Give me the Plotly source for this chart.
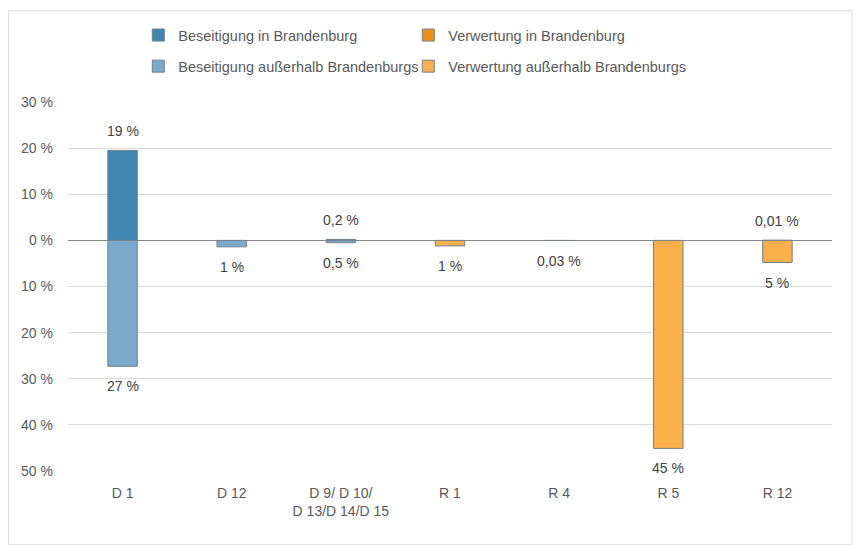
import plotly.graph_objects as go

categories = ["D 1", "D 12", "D 9/ D 10/<br>D 13/D 14/D 15", "R 1", "R 4", "R 5", "R 12"]

# shares in percent (in Brandenburg = positive, outside = shown downwards)
bes_in = [19.5, None, 0.2, None, None, None, None]
bes_out = [27.3, 1.4, 0.5, None, None, None, None]
ver_in = [None, None, None, None, None, None, 0.01]
ver_out = [None, None, None, 1.2, 0.03, 45.1, 4.8]

bes_in_lbl = ["19 %", None, "0,2 %", None, None, None, None]
bes_out_lbl = ["27 %", "1 %", "0,5 %", None, None, None, None]
ver_in_lbl = [None, None, None, None, None, None, "0,01 %"]
ver_out_lbl = [None, None, None, "1 %", "0,03 %", "45 %", "5 %"]

tick_vals = [30, 20, 10, 0, -10, -20, -30, -40, -50]
tick_text = ["30 %", "20 %", "10 %", "0 %", "10 %", "20 %", "30 %", "40 %", "50 %"]

FONT = "Liberation Sans"
C_BES_IN = "#3F86B3"
C_BES_OUT = "#7AAACC"
C_VER_IN = "#EE8E12"
C_VER_OUT = "#F9B04A"
OUTLINE = "#72808A"

def neg(vals):
    return [(-v if v is not None else None) for v in vals]

fig = go.Figure()
series = [
    ("Beseitigung in Brandenburg", bes_in, C_BES_IN, "legend"),
    ("Verwertung in Brandenburg", ver_in, C_VER_IN, "legend2"),
    ("Beseitigung außerhalb Brandenburgs", neg(bes_out), C_BES_OUT, "legend3"),
    ("Verwertung außerhalb Brandenburgs", neg(ver_out), C_VER_OUT, "legend4"),
]
for name, vals, col, lg in series:
    fig.add_trace(go.Bar(
        x=categories, y=vals, name=name, width=0.27,
        marker=dict(color=col, line=dict(color=OUTLINE, width=1)),
        legend=lg, showlegend=True, hoverinfo="skip",
    ))

annotations = []
for vals, lbls, up in [(bes_in, bes_in_lbl, True), (ver_in, ver_in_lbl, True),
                       (neg(bes_out), bes_out_lbl, False), (neg(ver_out), ver_out_lbl, False)]:
    for c, v, t in zip(categories, vals, lbls):
        if v is None or t is None:
            continue
        annotations.append(dict(
            x=c, y=v, text=t, showarrow=False,
            yanchor="bottom" if up else "top",
            yshift=9 if up else -10,
            font=dict(family=FONT, size=14, color="#404040"),
        ))

legend_common = dict(orientation="v", xanchor="left", yanchor="middle", itemwidth=30,
                     font=dict(family=FONT, size=14.5, color="#595959"),
                     bgcolor="rgba(0,0,0,0)", visible=True)

fig.update_layout(
    width=856, height=537,
    margin=dict(l=60, r=32, t=93, b=74),
    paper_bgcolor="white", plot_bgcolor="white",
    barmode="overlay",
    showlegend=True,
    font=dict(family=FONT, size=14, color="#595959"),
    annotations=annotations,
    legend=dict(x=0.092, y=1.178, **legend_common),
    legend2=dict(x=0.4454, y=1.178, **legend_common),
    legend3=dict(x=0.092, y=1.094, **legend_common),
    legend4=dict(x=0.4454, y=1.094, **legend_common),
    shapes=[dict(type="rect", xref="paper", yref="paper",
                 x0=-0.0778, x1=1.0262, y0=-0.2, y1=1.2473,
                 line=dict(color="#D9D9D9", width=1), fillcolor="rgba(0,0,0,0)",
                 layer="below")],
    xaxis=dict(showgrid=False, showline=False, ticks="", ticklabelstandoff=12,
               tickfont=dict(family=FONT, size=14, color="#595959")),
    yaxis=dict(range=[-50, 30], tickvals=tick_vals, ticktext=tick_text,
               showgrid=True, gridcolor="#D9D9D9", gridwidth=1,
               zeroline=True, zerolinecolor="#868686", zerolinewidth=1,
               showline=False, ticks="", ticklabelstandoff=14,
               tickfont=dict(family=FONT, size=14, color="#595959")),
)

fig.write_html("out.html")
